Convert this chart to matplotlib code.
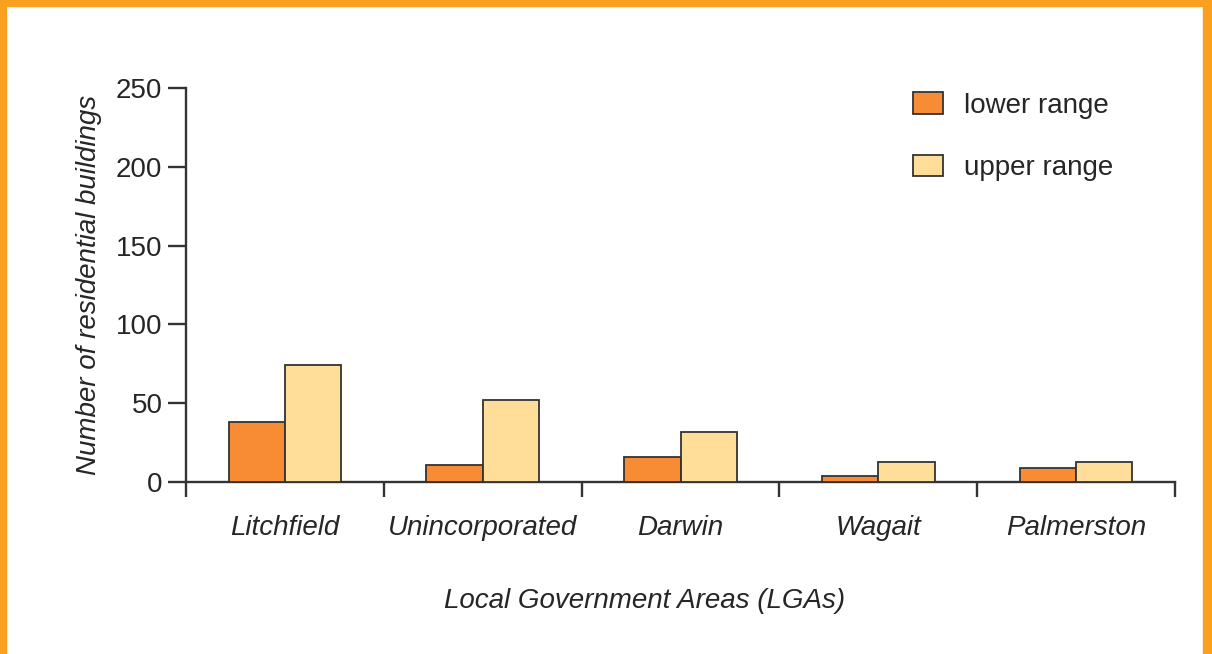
import matplotlib
matplotlib.use("Agg")
import matplotlib.pyplot as plt
from matplotlib.patches import Rectangle, Patch
import numpy as np

# Data
categories = ["Litchfield", "Unincorporated", "Darwin", "Wagait", "Palmerston"]
lower_range = [38, 11, 16, 4, 9]
upper_range = [74, 52, 32, 13, 13]
y_ticks = [0, 50, 100, 150, 200, 250]

plt.rcParams["font.family"] = ["Liberation Sans", "DejaVu Sans"]
FS = 20
TXT = "#262626"
EDGE = "#333333"
LOWER_C = "#F78C34"
UPPER_C = "#FEDE99"
BORDER_C = "#F9A11E"

W, H = 1212, 654
fig = plt.figure(figsize=(W / 100, H / 100), dpi=100)
fig.patch.set_facecolor("white")

ax = fig.add_axes([186 / W, 1 - 482 / H, (1175 - 186) / W, (482 - 88) / H])
ax.set_facecolor("none")

x = np.arange(len(categories))
bw = 0.285
ax.bar(x - bw / 2, lower_range, width=bw, color=LOWER_C, edgecolor=EDGE,
       linewidth=1.3, zorder=3)
ax.bar(x + bw / 2, upper_range, width=bw, color=UPPER_C, edgecolor=EDGE,
       linewidth=1.3, zorder=3)

ax.set_xlim(-0.5, len(categories) - 0.5)
ax.set_ylim(0, 250)

for s in ["top", "right"]:
    ax.spines[s].set_visible(False)
for s in ["left", "bottom"]:
    ax.spines[s].set_color(EDGE)
    ax.spines[s].set_linewidth(1.7)

ax.set_yticks(y_ticks)
ax.tick_params(axis="y", direction="out", length=13, width=1.7, color=EDGE,
               labelsize=FS, labelcolor=TXT, pad=4)

# category boundaries as major ticks, names on minor ticks
ax.set_xticks(np.arange(-0.5, len(categories), 1.0))
ax.set_xticklabels([])
ax.set_xticks(x, minor=True)
ax.set_xticklabels(categories, minor=True, style="italic")
ax.tick_params(axis="x", which="major", direction="out", length=11, width=1.7,
               color=EDGE)
ax.tick_params(axis="x", which="minor", length=0, labelsize=FS,
               labelcolor=TXT, pad=24)

ax.set_ylabel("Number of residential buildings", fontsize=FS, style="italic",
              color=TXT, labelpad=10)
fig.text(645 / W, 1 - 601 / H, "Local Government Areas (LGAs)", fontsize=FS,
         style="italic", color=TXT, ha="center", va="center")

handles = [Patch(facecolor=LOWER_C, edgecolor=EDGE, linewidth=1.3),
           Patch(facecolor=UPPER_C, edgecolor=EDGE, linewidth=1.3)]
fig.legend(handles, ["lower range", "upper range"], loc="upper left",
           bbox_to_anchor=(913 / W, 1 - 92 / H), frameon=False,
           fontsize=FS, labelcolor=TXT, handlelength=1.08, handleheight=0.83,
           handletextpad=0.75, labelspacing=1.3, borderpad=0, borderaxespad=0)

# orange frame around the panel
fig.patches.append(Rectangle((0, 1 - 6 / H), 1, 6 / H, transform=fig.transFigure,
                             color=BORDER_C, zorder=10))
fig.patches.append(Rectangle((0, 0), 6 / W, 1, transform=fig.transFigure,
                             color=BORDER_C, zorder=10))
fig.patches.append(Rectangle((1 - 9 / W, 0), 9 / W, 1, transform=fig.transFigure,
                             color=BORDER_C, zorder=10))

fig.savefig("out.png", dpi=100)
